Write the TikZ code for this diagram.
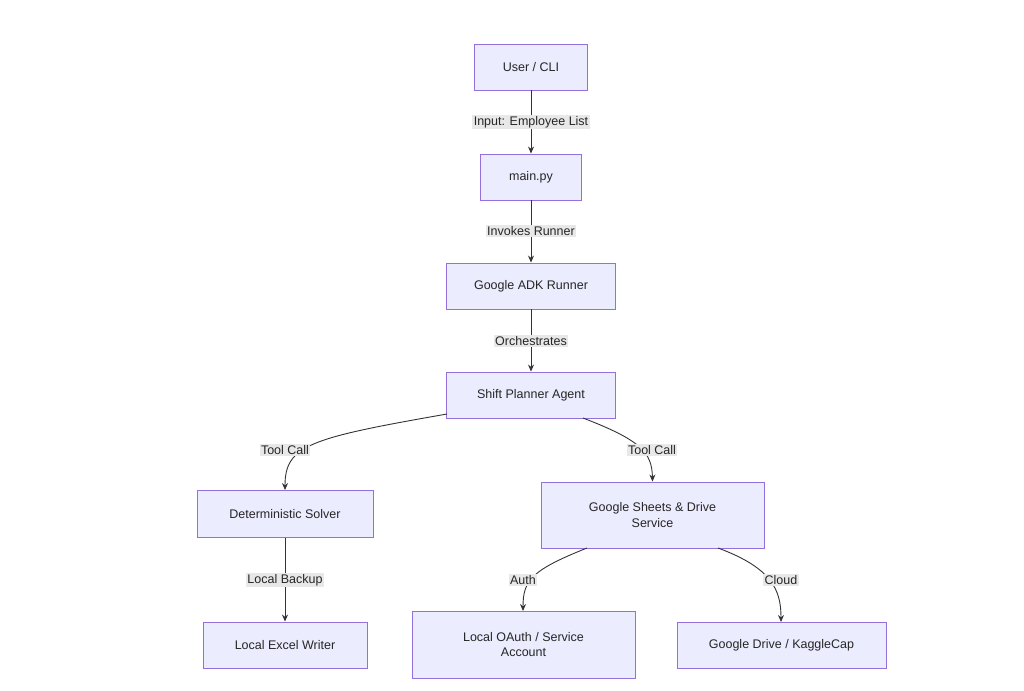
\documentclass[tikz,border=0pt]{standalone}
\usepackage{fontspec}
\setmainfont{Liberation Sans}
\usetikzlibrary{arrows.meta}
\definecolor{nfill}{HTML}{ECECFF}
\definecolor{nline}{HTML}{9370DB}
\definecolor{lbg}{HTML}{E8E8E8}
\definecolor{edge}{HTML}{333333}
\begin{document}
\begin{tikzpicture}[x=1pt,y=-1pt,
  box/.style={draw=nline,fill=nfill,line width=0.9pt,inner sep=0pt,font=\fontsize{12.5}{15.5}\selectfont,align=center,text=black!85},
  lab/.style={fill=lbg,inner sep=1.5pt,font=\fontsize{12.5}{15}\selectfont,text=black!85},
  arr/.style={draw=edge,line width=0.9pt,-{Stealth[length=7pt,width=6pt]}}]
\useasboundingbox (0,0) rectangle (1024,690);
\node[box,minimum width=113pt,minimum height=46pt] (user) at (531,67) {User / CLI};
\node[box,minimum width=101pt,minimum height=46pt] (main) at (531,177) {main.py};
\node[box,minimum width=169pt,minimum height=46pt] (adk) at (531,286) {Google ADK Runner};
\node[box,minimum width=169pt,minimum height=46pt] (agent) at (531,395) {Shift Planner Agent};
\node[box,minimum width=176pt,minimum height=47pt] (solver) at (285,514) {Deterministic Solver};
\node[box,minimum width=223pt,minimum height=66pt] (sheets) at (652.5,515) {Google Sheets \& Drive\\Service};
\node[box,minimum width=164pt,minimum height=46pt] (excel) at (285,645) {Local Excel Writer};
\node[box,minimum width=223pt,minimum height=67pt] (oauth) at (523.5,644.5) {Local OAuth / Service\\Account};
\node[box,minimum width=209pt,minimum height=46pt] (drive) at (781.5,645) {Google Drive / KaggleCap};

\coordinate (aL) at (447,414);
\coordinate (aR) at (583,418);
\coordinate (sL) at (587,548);
\coordinate (sR) at (718,548);
\coordinate (oT) at (523,611);
\coordinate (dT) at (781,622);

\draw[arr] (user) -- (main);
\draw[arr] (main) -- (adk);
\draw[arr] (adk) -- (agent);
\draw[arr] (aL) .. controls (310,438) and (285,445) .. (solver.north);
\draw[arr] (aR) .. controls (640,440) and (652,452) .. (sheets.north);
\draw[arr] (solver) -- (excel);
\draw[arr] (sL) .. controls (532,570) and (523,580) .. (oT);
\draw[arr] (sR) .. controls (772,568) and (781,590) .. (dT);

\node[lab] (l1) at (531,122) {Input: Employee List};
\node[lab] (l2) at (531,231) {Invokes Runner};
\node[lab] (l3) at (531,341) {Orchestrates};
\node[lab] (l4) at (285,450) {Tool Call};
\node[lab] (l5) at (652,450) {Tool Call};
\node[lab] (l6) at (285,580) {Local Backup};
\node[lab] (l7) at (523,580) {Auth};
\node[lab] (l8) at (781,580) {Cloud};
\end{tikzpicture}
\end{document}
